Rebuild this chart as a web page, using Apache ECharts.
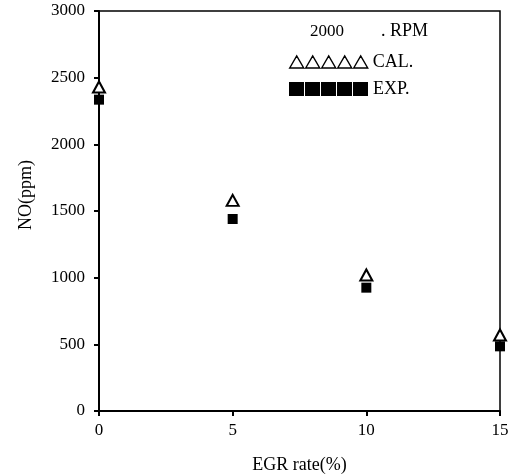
<!DOCTYPE html>
<html>
<head>
<meta charset="utf-8">
<script src="https://cdn.jsdelivr.net/npm/echarts@6/dist/echarts.min.js"></script>
<style>html,body{margin:0;padding:0;background:#fff;}#c{width:515px;height:474px;}</style>
</head>
<body>
<div id="c"></div>
<script>
var egrRate = [0, 5, 10, 15];
var calValues = [2430, 1580, 1020, 570];
var expValues = [2335, 1440, 925, 485];
var xTicks = [0, 5, 10, 15];
var yTicks = [0, 500, 1000, 1500, 2000, 2500, 3000];

var FONT = '"Liberation Serif", "DejaVu Serif", serif';
var triPath = 'path://M0,12L7,0L14,12ZM16,12L23,0L30,12ZM32,12L39,0L46,12ZM48,12L55,0L62,12ZM64,12L71,0L78,12Z';
var sqPath = 'path://M0,0h15v14h-15ZM16,0h15v14h-15ZM32,0h15v14h-15ZM48,0h15v14h-15ZM64,0h15v14h-15Z';

var chart = echarts.init(document.getElementById('c'), null, {renderer: 'canvas'});
chart.setOption({
  animation: false,
  backgroundColor: '#fff',
  textStyle: {fontFamily: FONT, color: '#000'},
  title: [
    {
      text: '2000', left: 310, top: 23, padding: 0,
      textStyle: {fontFamily: FONT, fontSize: 17, fontWeight: 'normal', color: '#000'}
    },
    {
      text: '. RPM', left: 381, top: 22, padding: 0,
      textStyle: {fontFamily: FONT, fontSize: 18, fontWeight: 'normal', color: '#000'}
    }
  ],
  legend: [
    {
      data: [{name: 'CAL.', icon: triPath, itemStyle: {color: '#fff', borderColor: '#000', borderWidth: 1.4}}],
      left: 289, top: 53, padding: 0, itemWidth: 78, itemHeight: 12, itemGap: 0,
      textStyle: {fontFamily: FONT, fontSize: 18, color: '#000'}
    },
    {
      data: [{name: 'EXP.', icon: sqPath, itemStyle: {color: '#000', borderWidth: 0}}],
      left: 289, top: 80, padding: 0, itemWidth: 79, itemHeight: 14, itemGap: 0,
      textStyle: {fontFamily: FONT, fontSize: 18, color: '#000'}
    }
  ],
  grid: {
    left: 99, right: 15, top: 11, bottom: 63,
    containLabel: false, outerBoundsMode: 'none',
    show: true, borderColor: '#000', borderWidth: 1.5, backgroundColor: 'transparent'
  },
  xAxis: {
    type: 'value', min: xTicks[0], max: xTicks[xTicks.length - 1], interval: 5,
    name: 'EGR rate(%)', nameLocation: 'middle', nameGap: 45,
    nameTextStyle: {fontFamily: FONT, fontSize: 18, color: '#000'},
    axisLine: {show: true, lineStyle: {color: '#000', width: 2}},
    axisTick: {show: true, length: 5, lineStyle: {color: '#000', width: 2}},
    axisLabel: {margin: 11, fontFamily: FONT, fontSize: 17, color: '#000', formatter: function (v) { return String(v); }},
    splitLine: {show: false}
  },
  yAxis: {
    type: 'value', min: yTicks[0], max: yTicks[yTicks.length - 1], interval: 500,
    name: 'NO(ppm)', nameLocation: 'middle', nameGap: 64,
    nameTextStyle: {fontFamily: FONT, fontSize: 18, color: '#000', padding: [0, 0, 0, 32]},
    axisLine: {show: true, lineStyle: {color: '#000', width: 2}},
    axisTick: {show: true, length: 5, lineStyle: {color: '#000', width: 2}},
    axisLabel: {margin: 14, fontFamily: FONT, fontSize: 17, color: '#000', formatter: function (v) { return String(v); }},
    splitLine: {show: false}
  },
  series: [
    {
      name: 'CAL.', type: 'scatter',
      data: egrRate.map(function (x, i) { return [x, calValues[i]]; }),
      symbol: 'triangle', symbolSize: [12, 11],
      itemStyle: {color: '#fff', borderColor: '#000', borderWidth: 2, opacity: 1},
      z: 5
    },
    {
      name: 'EXP.', type: 'scatter',
      data: egrRate.map(function (x, i) { return [x, expValues[i]]; }),
      symbol: 'rect', symbolSize: [10, 10],
      itemStyle: {color: '#000', opacity: 1},
      z: 5
    }
  ]
});
</script>
</body>
</html>
